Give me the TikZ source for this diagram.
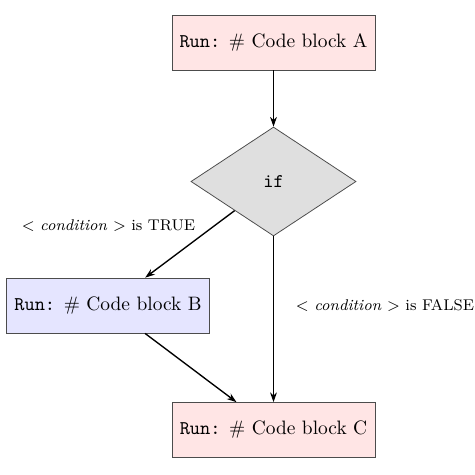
\documentclass[tikz,border=0pt]{standalone}
\usetikzlibrary{shapes.geometric,arrows.meta}
\begin{document}
\begin{tikzpicture}[x=0.515pt,y=-0.515pt,
  runbox/.style={rectangle,draw=black!70,minimum width=104.5pt,minimum height=28.3pt,inner sep=2pt},
  decision/.style={diamond,draw=black!70,fill=gray!25,minimum width=85pt,minimum height=56.1pt,inner sep=0pt},
  flow/.style={->,>={Stealth[length=5pt,width=3.5pt]},line width=0.7pt},
  cond/.style={font=\footnotesize}]
\useasboundingbox (0,0) rectangle (475,475);
\node[runbox,fill=red!10] (A) at (273.5,42.5) {\texttt{Run:} \# Code block A};
\node[decision] (D) at (273.5,181.5) {\texttt{if}};
\node[runbox,fill=blue!10] (B) at (108,305.5) {\texttt{Run:} \# Code block B};
\node[runbox,fill=red!10] (C) at (273.5,430) {\texttt{Run:} \# Code block C};
\draw[flow] (A) -- (D);
\draw[flow] (D) -- (B);
\draw[flow] (B) -- (C);
\draw[flow] (D) -- (C);
\node[cond] (t) at (108.5,226) {$<$ \textit{condition} $>$ is TRUE};
\node[cond] (f) at (385,305) {$<$ \textit{condition} $>$ is FALSE};
\end{tikzpicture}
\end{document}
